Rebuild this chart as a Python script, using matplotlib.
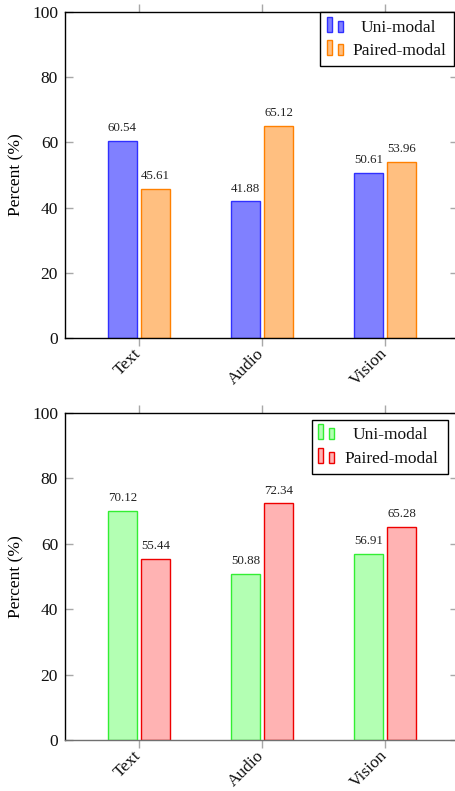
import matplotlib
matplotlib.use("Agg")
import matplotlib.pyplot as plt
from matplotlib.patches import Rectangle
import numpy as np

categories = ["Text", "Audio", "Vision"]
series_names = ["Uni-modal", "Paired-modal"]
top_uni = [60.54, 41.88, 50.61]
top_paired = [45.61, 65.12, 53.96]
bot_uni = [70.12, 50.88, 56.91]
bot_paired = [55.44, 72.34, 65.28]
yticks = [0, 20, 40, 60, 80, 100]

plt.rcParams['font.family'] = ['Liberation Serif', 'DejaVu Serif']

W, H = 456, 791
fig = plt.figure(figsize=(W / 100, H / 100), dpi=100)

def px2fig(x, y):
    return x / W, 1 - y / H

TICK_GRAY = '#a8a8a8'
FS = 12.5

def make_axes(top_px, bottom_px):
    left, right = 65, 458
    l, b = px2fig(left, bottom_px)
    r, t = px2fig(right, top_px)
    return fig.add_axes([l, b, r - l, t - b])

def draw_chart(ax, uni, paired, c_uni, c_paired, bottom_spine_color='black'):
    x = np.arange(len(categories))
    bw = 0.232
    off = 0.134
    b1 = ax.bar(x - off, uni, bw, color=c_uni[0], edgecolor=c_uni[1], linewidth=1.0, zorder=2)
    b2 = ax.bar(x + off, paired, bw, color=c_paired[0], edgecolor=c_paired[1], linewidth=1.0, zorder=2)
    for bars, vals in ((b1, uni), (b2, paired)):
        for rect, v in zip(bars, vals):
            ax.annotate(f"{v:.2f}", (rect.get_x() + rect.get_width() / 2, v),
                        xytext=(0, 5), textcoords='offset points',
                        ha='center', va='bottom', fontsize=9.3, color='#222222')
    ax.set_xlim(-0.6, 2.592)
    ax.set_ylim(0, 100)
    ax.set_yticks(yticks)
    ax.set_yticklabels([str(v) for v in yticks], fontsize=FS)
    ax.set_xticks(x)
    ax.set_xticklabels(categories, fontsize=FS, rotation=45, ha='right', va='center',
                       rotation_mode='anchor')
    ax.tick_params(axis='y', direction='in', length=6, width=1, color=TICK_GRAY,
                   left=True, right=True, pad=5, labelcolor='#111111')
    ax.tick_params(axis='x', direction='out', length=6, width=1, color=TICK_GRAY,
                   bottom=True, top=True, pad=3.5, labelcolor='#111111')
    for s in ax.spines.values():
        s.set_color('black')
        s.set_linewidth(1.0)
    ax.spines['bottom'].set_color(bottom_spine_color)
    ax.set_ylabel("Percent (%)", fontsize=FS)

def draw_legend(box, rows, colors):
    # box: (x0, y0, x1, y1) pixels; rows: list of (baseline_y, text_center_x, bar_x)
    x0, y0, x1, y1 = box
    l, b = px2fig(x0, y1)
    r, t = px2fig(x1, y0)
    fig.patches.append(Rectangle((l, b), r - l, t - b, transform=fig.transFigure,
                                 facecolor='white', edgecolor='black', linewidth=1.0, zorder=5))
    for (base, tcx, bx), name, (fc, ec) in zip(rows, series_names, colors):
        for (bx0, bw, bh) in ((bx, 5, 15), (bx + 11, 5, 11)):
            ll, bb = px2fig(bx0, base)
            rr, tt = px2fig(bx0 + bw, base - bh)
            fig.patches.append(Rectangle((ll, bb), rr - ll, tt - bb, transform=fig.transFigure,
                                         facecolor=fc, edgecolor=ec, linewidth=1.0, zorder=6))
        tx, ty = px2fig(tcx, base)
        fig.text(tx, ty, name, ha='center', va='baseline', fontsize=FS, zorder=7, color='#111111')

blue = ('#8080ff', '#3030ff')
orange = ('#ffbf80', '#ff8000')
green = ('#b3ffb3', '#33ee33')
red = ('#ffb3b3', '#ee0000')

ax1 = make_axes(12, 338)
draw_chart(ax1, top_uni, top_paired, blue, orange)
ax2 = make_axes(413, 740)
draw_chart(ax2, bot_uni, bot_paired, green, red, bottom_spine_color='#707070')

for ax in (ax1, ax2):
    ax.yaxis.set_label_coords(-0.103, 0.5)

draw_legend((320, 12, 454, 66), [(32, 398.5, 327), (55, 399, 327)], [blue, orange])
draw_legend((312, 420, 448, 474), [(439, 390, 318), (463, 391, 318)], [green, red])

fig.savefig("out.png", dpi=100)
